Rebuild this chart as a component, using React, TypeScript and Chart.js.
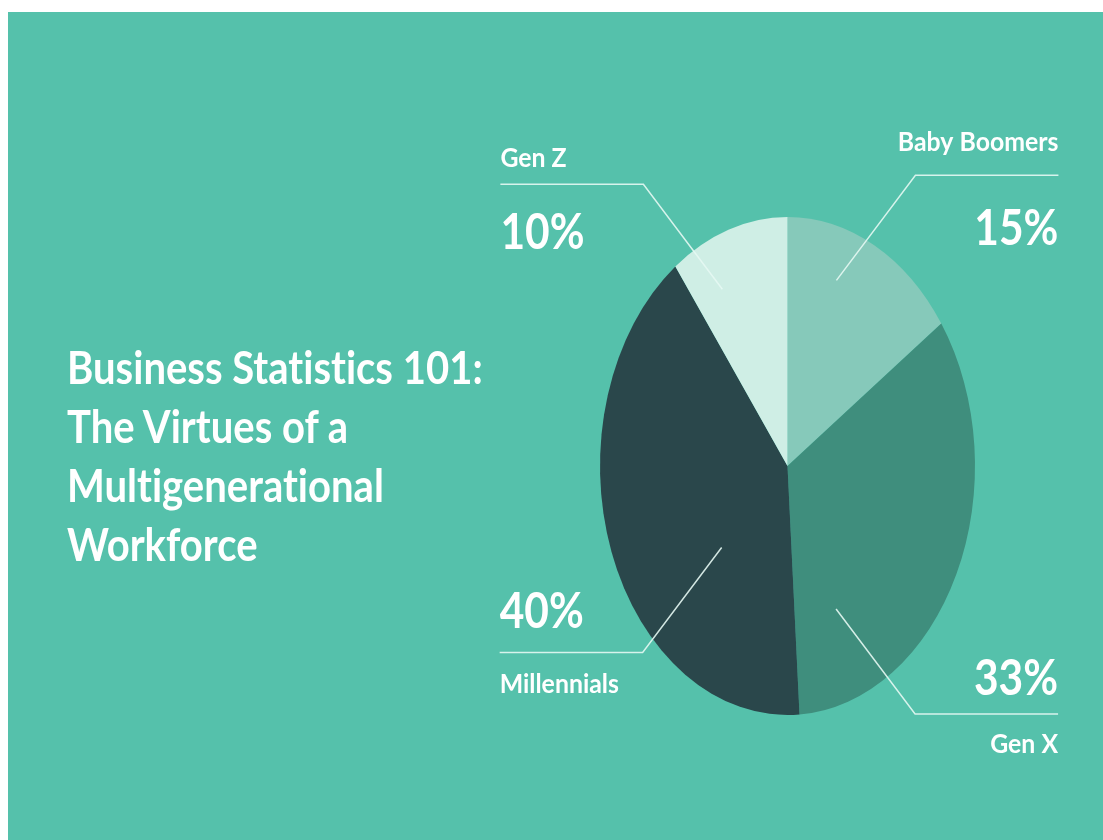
import React, { useEffect, useRef } from "react";
import { Chart, registerables } from "chart.js";

Chart.register(...registerables);

// ---- data ----
const categories = ["Baby Boomers", "Gen X", "Millennials", "Gen Z"];
const shares = [15, 33, 40, 10];
const pctLabels = ["15%", "33%", "40%", "10%"];
const sliceColors = ["#86C9BA", "#3F8E7D", "#2A474B", "#CFEEE5"];
const titleLines = ["Business Statistics 101:", "The Virtues of a", "Multigenerational", "Workforce"];

// ---- layout / style ----
const W = 1095;
const H = 828;
const BG = "#55C1AB";
const ELLIPSE_K = 249 / 187.5; // vertical stretch of the pie
const FONT = "Lato, 'Open Sans', sans-serif";
const NAME_CONDENSE = 0.92;
const PCT_CONDENSE = 0.85;

// per-slice callout layout: side (+1 right / -1 left), vert (-1 up / +1 down),
// where inside the slice the leader starts, and text offsets from the horizontal rule
const callouts = [
  { side: 1, vert: -1, frac: 0.35, rf: 0.79, nameDy: -24, pctDy: 70 },
  { side: 1, vert: 1, frac: 0.83, rf: 0.63, nameDy: 39, pctDy: -19 },
  { side: -1, vert: 1, frac: 0.345, rf: 0.48, nameDy: 41, pctDy: -24 },
  { side: -1, vert: -1, frac: 0.29, rf: 0.79, nameDy: -17, pctDy: 65 },
];
const LEADER_DX = 79;
const LEADER_DY = 105;
const RULE_LEN = 143;

const ellipsePlugin = {
  id: "ellipse",
  beforeDatasetsDraw(chart: any) {
    const arc = chart.getDatasetMeta(0).data[0];
    const ctx = chart.ctx;
    ctx.save();
    ctx.translate(arc.x, arc.y);
    ctx.scale(1, ELLIPSE_K);
    ctx.translate(-arc.x, -arc.y);
  },
  afterDatasetsDraw(chart: any) {
    chart.ctx.restore();
  },
};

function condensedText(ctx: any, text: string, x: number, y: number, condense: number) {
  ctx.save();
  ctx.translate(x, y);
  ctx.scale(condense, 1);
  ctx.fillText(text, 0, 0);
  ctx.restore();
}

const calloutPlugin = {
  id: "callouts",
  afterDraw(chart: any) {
    const ctx = chart.ctx;
    const arcs = chart.getDatasetMeta(0).data;
    arcs.forEach((arc: any, i: number) => {
      const c = callouts[i];
      const a = arc.startAngle + c.frac * (arc.endAngle - arc.startAngle);
      const r = c.rf * arc.outerRadius;
      const ix = arc.x + Math.cos(a) * r;
      const iy = arc.y + Math.sin(a) * r * ELLIPSE_K;
      const ex = ix + c.side * LEADER_DX;
      const ey = iy + c.vert * LEADER_DY;
      const lx = ex + c.side * RULE_LEN;
      ctx.save();
      ctx.strokeStyle = "rgba(230,248,243,0.9)";
      ctx.lineWidth = 1.5;
      ctx.beginPath();
      ctx.moveTo(ix, iy);
      ctx.lineTo(ex, ey);
      ctx.lineTo(lx, ey);
      ctx.stroke();
      ctx.fillStyle = "#ffffff";
      ctx.textAlign = c.side > 0 ? "right" : "left";
      ctx.textBaseline = "alphabetic";
      ctx.font = `bold 27px ${FONT}`;
      condensedText(ctx, categories[i], lx, ey + c.nameDy, NAME_CONDENSE);
      ctx.font = `bold 50px ${FONT}`;
      condensedText(ctx, pctLabels[i], lx, ey + c.pctDy, PCT_CONDENSE);
      ctx.restore();
    });
  },
};

export default function App() {
  const ref = useRef<HTMLCanvasElement>(null);
  useEffect(() => {
    if (!ref.current) return;
    const chart = new Chart(ref.current, {
      type: "pie",
      data: {
        labels: categories,
        datasets: [
          {
            data: shares,
            backgroundColor: sliceColors,
            borderWidth: 0,
            hoverOffset: 0,
            clip: false,
          } as any,
        ],
      },
      options: {
        responsive: false,
        animation: false,
        events: [],
        layout: { padding: { left: 592, right: 128, top: 266.5, bottom: 186.5 } },
        plugins: { legend: { display: false }, tooltip: { enabled: false } },
      },
      plugins: [ellipsePlugin, calloutPlugin],
    });
    return () => chart.destroy();
  }, []);

  return (
    <div
      style={{
        position: "absolute",
        left: 8,
        top: 12,
        width: W,
        height: H,
        background: BG,
        overflow: "hidden",
      }}
    >
      <canvas ref={ref} width={W} height={H} style={{ position: "absolute", left: 0, top: 0 }} />
      <div
        style={{
          position: "absolute",
          left: 59,
          top: 326,
          color: "#ffffff",
          fontFamily: FONT,
          fontWeight: 700,
          fontSize: 45,
          lineHeight: "59px",
          whiteSpace: "nowrap",
          fontVariantLigatures: "none",
          transform: "scaleX(0.89)",
          transformOrigin: "left top",
        }}
      >
        {titleLines.map((t) => (
          <div key={t}>{t}</div>
        ))}
      </div>
    </div>
  );
}
